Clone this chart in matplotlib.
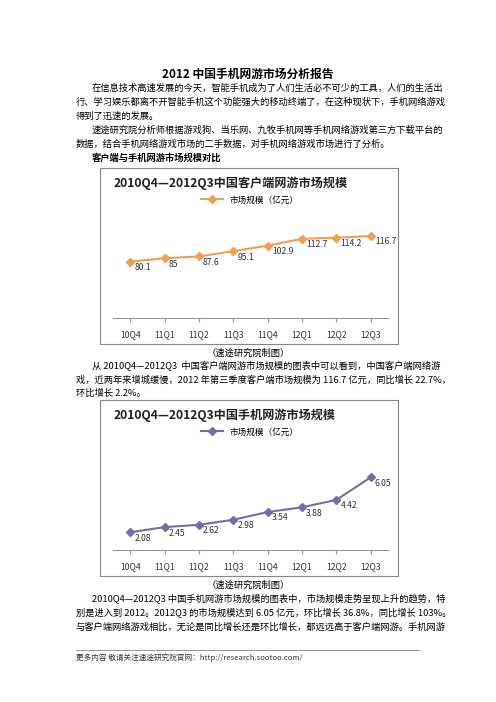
import matplotlib
matplotlib.use('Agg')
import matplotlib.pyplot as plt
from matplotlib.patches import Rectangle

plt.rcParams['font.family'] = ['Noto Sans CJK SC', 'DejaVu Sans']

quarters = ['10Q4', '11Q1', '11Q2', '11Q3', '11Q4', '12Q1', '12Q2', '12Q3']
client_vals = [80.1, 85, 87.6, 95.1, 102.9, 112.7, 114.2, 116.7]
client_labels = ['80.1', '85', '87.6', '95.1', '102.9', '112.7', '114.2', '116.7']
mobile_vals = [2.08, 2.45, 2.62, 2.98, 3.54, 3.88, 4.42, 6.05]
mobile_labels = ['2.08', '2.45', '2.62', '2.98', '3.54', '3.88', '4.42', '6.05']

W, H = 496, 702
fig = plt.figure(figsize=(W/100, H/100), dpi=100)

def fx(x): return x / W
def fy(y): return 1 - y / H

def txt(x, y, s, size=6.7, **kw):
    fig.text(fx(x), fy(y), s, fontsize=size, va='center', **kw)

txt(248, 74, '2012 中国手机网游市场分析报告', 8.5, ha='center', weight='bold')
body1 = [
    (92, 88, '在信息技术高速发展的今天，智能手机成为了人们生活必不可少的工具，人们的生活出'),
    (76, 102, '行、学习娱乐都离不开智能手机这个功能强大的移动终端了，在这种现状下，手机网络游戏'),
    (76, 116, '得到了迅速的发展。'),
    (92, 130, '速途研究院分析师根据游戏狗、当乐网、九牧手机网等手机网络游戏第三方下载平台的'),
    (76, 144, '数据，结合手机网络游戏市场的二手数据，对手机网络游戏市场进行了分析。'),
]
for x, y, s in body1:
    txt(x, y, s)
txt(92, 158, '客户端与手机网游市场规模对比', 6.7, weight='bold')
txt(248, 353, '（速途研究院制图）', 6.7, ha='center')
txt(92, 366, '从 2010Q4—2012Q3  中国客户端网游市场规模的图表中可以看到，中国客户端网络游')
txt(76, 380, '戏，近两年来增城缓慢，2012 年第三季度客户端市场规模为 116.7 亿元，同比增长 22.7%，')
txt(76, 393, '环比增长 2.2%。')
txt(248, 585, '（速途研究院制图）', 6.7, ha='center')
txt(92, 599, '2010Q4—2012Q3 中国手机网游市场规模的图表中，市场规模走势呈现上升的趋势，特')
txt(76, 613, '别是进入到 2012。2012Q3 的市场规模达到 6.05 亿元，环比增长 36.8%，同比增长 103%。')
txt(76, 627, '与客户端网络游戏相比，无论是同比增长还是环比增长，都远远高于客户端网游。手机网游')
txt(76, 658, '更多内容 敬请关注速途研究院官网：http://research.sootoo.com/', 5.5, color='#333333')
fig.add_artist(plt.Line2D([fx(76), fx(420)], [fy(650), fy(650)], color='#888888', lw=0.6))

def chart(top, title, vals, labels, color, marker, ylim, legend):
    fig.add_artist(Rectangle((fx(100), fy(top + 176)), fx(298), 176 / H,
                             fill=False, edgecolor='#888888', lw=0.8))
    fig.text(fx(114), fy(top + 15), title, fontsize=8.7, weight='bold', va='center', color='#222222')
    ax = fig.add_axes([fx(113), fy(top + 150), fx(275), (150 - 53) / H])
    x = range(len(quarters))
    ln, = ax.plot(x, vals, color=color, marker=marker, ms=4, lw=1.5, label=legend)
    for i, (v, l) in enumerate(zip(vals, labels)):
        ax.annotate(l, (i, v), xytext=(3, -1), textcoords='offset points',
                    fontsize=6.2, va='top', ha='left', color='#333333')
    ax.set_xlim(-0.5, len(quarters) - 0.5)
    ax.set_ylim(*ylim)
    ax.set_xticks(list(x))
    ax.set_xticklabels(quarters, fontsize=6.2, color='#333333')
    ax.set_yticks([])
    for s in ['top', 'right', 'left']:
        ax.spines[s].set_visible(False)
    ax.spines['bottom'].set_color('#999999')
    ax.tick_params(axis='x', length=3, color='#999999', pad=6)
    fig.legend(handles=[ln], loc='center', bbox_to_anchor=(fx(250), fy(top + 32)),
               frameon=False, fontsize=6.2, handlelength=2.5)

chart(168, '2010Q4—2012Q3中国客户端网游市场规模', client_vals, client_labels,
      '#f0a050', 'D', (0, 138), '市场规模（亿元）')
chart(400, '2010Q4—2012Q3中国手机网游市场规模', mobile_vals, mobile_labels,
      '#7b6aa6', 'D', (0.8, 7.8), '市场规模（亿元）')

fig.savefig('out.png', dpi=100, facecolor='white')
